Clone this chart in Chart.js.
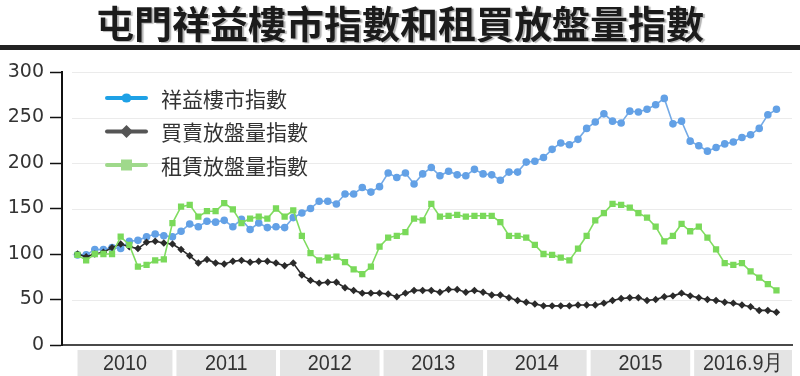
<!DOCTYPE html>
<html>
<head>
<meta charset="utf-8">
<script src="https://cdn.jsdelivr.net/npm/chart.js@4.4.1/dist/chart.umd.min.js"></script>
<style>
html, body { margin: 0; padding: 0; background: #fff; }
#wrap { position: relative; width: 800px; height: 376px; overflow: hidden; }
#title {
    position: absolute; left: 0; top: 0; width: 800px; height: 44px;
    line-height: 44px; text-align: center; z-index: 2;
    font-family: "Noto Sans CJK TC", sans-serif; font-weight: bold; font-size: 38px;
    color: #1b1b1b; text-shadow: 2px 1px 1px rgba(0, 0, 0, 0.3);
}
#rule { position: absolute; left: 0; top: 45px; width: 800px; height: 5px; background: #222; z-index: 2; }
#box { position: absolute; left: 0; top: 0; width: 800px; height: 376px; }
</style>
</head>
<body>
<div id="wrap">
    <div id="title">屯門祥益樓市指數和租買放盤量指數</div>
    <div id="rule"></div>
    <div id="box"><canvas id="chart"></canvas></div>
</div>
<script>
// Monthly categories
const months = [
    '2010-01','2010-02','2010-03','2010-04','2010-05','2010-06','2010-07','2010-08','2010-09','2010-10','2010-11','2010-12',
    '2011-01','2011-02','2011-03','2011-04','2011-05','2011-06','2011-07','2011-08','2011-09','2011-10','2011-11','2011-12',
    '2012-01','2012-02','2012-03','2012-04','2012-05','2012-06','2012-07','2012-08','2012-09','2012-10','2012-11','2012-12',
    '2013-01','2013-02','2013-03','2013-04','2013-05','2013-06','2013-07','2013-08','2013-09','2013-10','2013-11','2013-12',
    '2014-01','2014-02','2014-03','2014-04','2014-05','2014-06','2014-07','2014-08','2014-09','2014-10','2014-11','2014-12',
    '2015-01','2015-02','2015-03','2015-04','2015-05','2015-06','2015-07','2015-08','2015-09','2015-10','2015-11','2015-12',
    '2016-01','2016-02','2016-03','2016-04','2016-05','2016-06','2016-07','2016-08','2016-09','2016-10'
];

// Year band labels under the axis
const yearLabels = ['2010', '2011', '2012', '2013', '2014', '2015', '2016.9月'];

const seriesNames = ['祥益樓市指數', '買賣放盤量指數', '租賃放盤量指數'];

// 祥益樓市指數
const priceIndex = [
    99, 99, 105, 105, 107, 106, 114, 115, 119, 122, 120, 119,
    125, 133, 130, 136, 135, 137, 130, 138, 127, 134, 129, 130,
    129, 140, 145, 150, 158, 158, 155, 166, 166, 173, 168, 174,
    189, 184, 189, 177, 188, 195, 186, 191, 187, 186, 193, 188,
    187, 181, 190, 190, 201, 202, 206, 215, 222, 220, 226, 238,
    245, 254, 246, 244, 257, 256, 259, 264, 271, 243, 246, 224,
    219, 213, 217, 221, 223, 228, 231, 238, 253, 259
];

// 買賣放盤量指數
const saleListings = [
    100, 97, 100, 102, 107, 111, 108, 106, 113, 114, 112, 111,
    105, 98, 90, 94, 90, 89, 92, 93, 91, 92, 92, 90,
    87, 90, 77, 71, 68, 69, 69, 63, 60, 57, 57, 57,
    56, 53, 57, 60, 60, 60, 58, 61, 61, 58, 60, 58,
    55, 55, 52, 49, 47, 45, 43, 43, 43, 43, 44, 44,
    44, 46, 49, 51, 52, 52, 49, 50, 53, 54, 57, 54,
    52, 50, 49, 47, 46, 44, 42, 38, 38, 36
];

// 租賃放盤量指數
const rentListings = [
    99, 93, 100, 100, 100, 119, 110, 86, 88, 93, 94, 134,
    152, 154, 141, 147, 147, 156, 149, 134, 139, 141, 139, 150,
    141, 148, 120, 101, 93, 96, 97, 91, 83, 78, 86, 108,
    118, 120, 124, 139, 137, 155, 141, 142, 143, 141, 142, 142,
    142, 135, 120, 120, 118, 110, 100, 99, 96, 93, 106, 120,
    137, 145, 155, 154, 151, 145, 140, 130, 114, 120, 133, 125,
    130, 118, 105, 90, 88, 90, 81, 74, 67, 60
];

const TEXT_COLOR = '#333';

function toPoints(values) {
    return values.map(function(v, i) { return { x: i, y: v }; });
}

// Grey year bands below the x axis
const yearBandsPlugin = {
    id: 'yearBands',
    afterDraw(chart) {
        const ctx = chart.ctx;
        const xs = chart.scales.x;
        const area = chart.chartArea;
        const top = area.bottom + 5;
        const bottom = chart.height;
        ctx.save();
        yearLabels.forEach(function(label, k) {
            const year = label.slice(0, 4);
            const idx = [];
            months.forEach(function(m, i) { if (m.indexOf(year) === 0) idx.push(i); });
            const first = idx[0];
            const last = idx[idx.length - 1];
            const left = first === 0 ? xs.getPixelForValue(0) : xs.getPixelForValue(first - 1) + 4;
            const right = k === yearLabels.length - 1 ? area.right : xs.getPixelForValue(last);
            ctx.fillStyle = '#e4e4e4';
            ctx.fillRect(left, top, right - left, bottom - top);
            ctx.fillStyle = TEXT_COLOR;
            ctx.font = '22px "Liberation Sans", Arial, sans-serif';
            ctx.textAlign = 'center';
            ctx.textBaseline = 'middle';
            ctx.save();
            ctx.translate((left + right) / 2, (top + bottom) / 2 + 1);
            ctx.scale(0.9, 1);
            ctx.fillText(label, 0, 0);
            ctx.restore();
        });
        ctx.restore();
    }
};

// Light grid lines that start a little right of the y axis
const gridPlugin = {
    id: 'softGrid',
    beforeDatasetsDraw(chart) {
        const ctx = chart.ctx;
        const ys = chart.scales.y;
        const area = chart.chartArea;
        ctx.save();
        ctx.strokeStyle = '#ebebeb';
        ctx.lineWidth = 1;
        ys.ticks.forEach(function(t) {
            if (t.value === 0) return;
            const y = Math.round(ys.getPixelForValue(t.value)) + 0.5;
            ctx.beginPath();
            ctx.moveTo(area.left + 10, y);
            ctx.lineTo(area.right, y);
            ctx.stroke();
        });
        ctx.restore();
    }
};

// Legend: line sample + marker + label
const legendPlugin = {
    id: 'lineLegend',
    afterDraw(chart) {
        const ctx = chart.ctx;
        const styles = [
            { color: '#1ea1e6', shape: 'circle' },
            { color: '#555555', shape: 'diamond' },
            { color: '#9fd98b', shape: 'square' }
        ];
        ctx.save();
        seriesNames.forEach(function(name, i) {
            const y = 98 + i * 33.5;
            const s = styles[i];
            ctx.strokeStyle = s.color;
            ctx.fillStyle = s.color;
            ctx.lineWidth = 4;
            ctx.lineCap = 'round';
            ctx.beginPath();
            ctx.moveTo(107, y);
            ctx.lineTo(146, y);
            ctx.stroke();
            const cx = 126.5;
            ctx.beginPath();
            if (s.shape === 'circle') {
                ctx.ellipse(cx, y, 5, 4.5, 0, 0, Math.PI * 2);
            } else if (s.shape === 'diamond') {
                ctx.moveTo(cx, y - 6.5);
                ctx.lineTo(cx + 6.5, y);
                ctx.lineTo(cx, y + 6.5);
                ctx.lineTo(cx - 6.5, y);
                ctx.closePath();
            } else {
                ctx.rect(cx - 5.5, y - 5.5, 11, 11);
            }
            ctx.fill();
            ctx.fillStyle = TEXT_COLOR;
            ctx.font = '21px "Noto Sans CJK TC", sans-serif';
            ctx.textAlign = 'left';
            ctx.textBaseline = 'middle';
            ctx.fillText(name, 161, y + 1);
        });
        ctx.restore();
    }
};

const ctx = document.getElementById('chart').getContext('2d');
new Chart(ctx, {
    type: 'line',
    data: {
        datasets: [
            {
                label: seriesNames[0],
                data: toPoints(priceIndex),
                borderColor: '#74aae6',
                backgroundColor: '#63a1e6',
                pointBorderColor: '#63a1e6',
                pointStyle: 'circle',
                pointRadius: 3,
                borderWidth: 1.6,
                order: 2
            },
            {
                label: seriesNames[1],
                data: toPoints(saleListings),
                borderColor: '#2b2b2b',
                backgroundColor: '#2b2b2b',
                pointBorderColor: '#2b2b2b',
                pointStyle: 'rectRot',
                pointRadius: 2.6,
                borderWidth: 1.6,
                order: 1
            },
            {
                label: seriesNames[2],
                data: toPoints(rentListings),
                borderColor: '#80dc60',
                backgroundColor: '#7ad95a',
                pointBorderColor: '#7ad95a',
                pointStyle: 'rect',
                pointRadius: 3.3,
                borderWidth: 1.6,
                order: 0
            }
        ]
    },
    options: {
        responsive: true,
        maintainAspectRatio: false,
        animation: false,
        layout: { padding: { top: 72, left: 0, right: 8, bottom: 0 } },
        plugins: {
            legend: { display: false },
            tooltip: { enabled: false },
            title: { display: false }
        },
        scales: {
            x: {
                type: 'linear',
                min: -1.8,
                max: 82.8,
                grid: { display: false, drawTicks: false },
                border: { display: true, color: '#4a4a4a', width: 2 },
                ticks: { display: false },
                afterFit: function(scale) { scale.height = 31; }
            },
            y: {
                min: 0,
                max: 300,
                grid: { display: true, drawOnChartArea: false, drawTicks: true, tickLength: 12, tickColor: '#111', tickWidth: 1.5 },
                border: { display: true, color: '#111', width: 2 },
                ticks: {
                    stepSize: 50,
                    padding: 6,
                    color: TEXT_COLOR,
                    font: { family: '"DejaVu Sans", sans-serif', size: 19 }
                },
                afterFit: function(scale) { scale.width = 62; }
            }
        }
    },
    plugins: [gridPlugin, yearBandsPlugin, legendPlugin]
});
</script>
</body>
</html>
